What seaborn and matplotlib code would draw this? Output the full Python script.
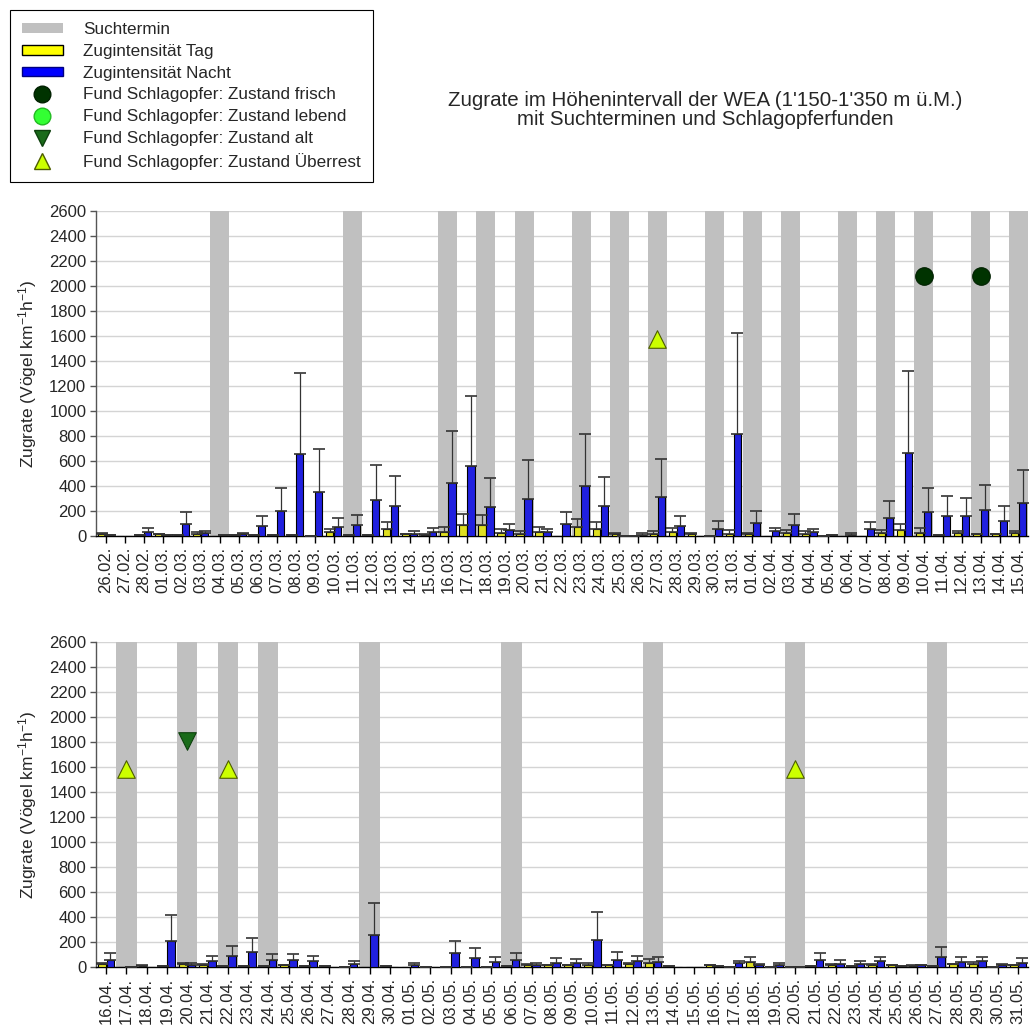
import numpy as np
import pandas as pd
import seaborn as sns
import matplotlib.pyplot as plt
from matplotlib.patches import Patch
from matplotlib.lines import Line2D

# Dates (tick labels) of the two panels
top_dates = list(pd.date_range("2011-02-26", "2011-04-15").strftime("%d.%m."))
bottom_dates = list(pd.date_range("2011-04-16", "2011-05-31").strftime("%d.%m."))

# Zugintensität Tag / Nacht with upper error, top panel (26.02.-15.04.)
top_tag = [20, 0, 5, 15, 5, 18, 0, 5, 5, 5, 5, 3, 30, 5, 5, 58, 15, 12, 35, 90,
           88, 27, 20, 35, 0, 72, 58, 18, 3, 20, 35, 15, 3, 20, 20, 0, 28, 20, 2, 0,
           0, 27, 45, 28, 10, 22, 15, 15, 22]
top_tag_err = [3, 0, 0, 5, 0, 12, 0, 0, 0, 0, 0, 0, 30, 0, 0, 58, 5, 4, 40, 85,
               83, 29, 22, 40, 0, 64, 56, 8, 0, 22, 30, 10, 0, 27, 8, 0, 20, 22, 0, 0,
               0, 21, 50, 38, 0, 20, 0, 0, 20]
top_nacht = [5, 0, 30, 5, 96, 22, 5, 15, 82, 197, 653, 352, 75, 88, 285, 243, 20, 30, 424, 557,
             230, 50, 300, 30, 96, 403, 237, 2, 12, 309, 83, 0, 58, 813, 104, 37, 90, 29, 8, 12,
             58, 141, 661, 189, 163, 157, 205, 117, 264]
top_nacht_err = [0, 0, 37, 0, 93, 21, 0, 13, 81, 190, 654, 344, 72, 83, 286, 240, 20, 37, 419, 560,
                 235, 50, 310, 27, 99, 413, 232, 0, 10, 307, 80, 0, 64, 812, 93, 30, 85, 27, 0, 14,
                 57, 139, 662, 192, 157, 150, 206, 120, 267]

# bottom panel (16.04.-31.05.)
bottom_tag = [20, 0, 8, 10, 22, 15, 10, 10, 10, 17, 10, 10, 3, 0, 10, 0, 3, 3, 3, 3,
              10, 15, 12, 15, 15, 12, 20, 29, 10, 0, 12, 3, 43, 3, 3, 10, 18, 10, 17, 14,
              10, 10, 20, 20, 2, 17]
bottom_tag_err = [8, 0, 10, 0, 6, 5, 0, 0, 0, 0, 0, 0, 0, 0, 0, 0, 0, 0, 0, 0,
                  0, 5, 0, 0, 15, 0, 10, 35, 0, 0, 0, 0, 34, 0, 0, 0, 6, 0, 6, 0,
                  5, 0, 6, 16, 0, 0]
bottom_nacht = [53, 3, 0, 211, 15, 45, 88, 120, 53, 53, 45, 0, 27, 259, 0, 13, 0, 109, 72, 37,
                59, 13, 35, 35, 219, 58, 45, 43, 0, 0, 5, 29, 17, 14, 2, 59, 27, 27, 45, 10,
                15, 80, 43, 45, 13, 35]
bottom_nacht_err = [56, 0, 0, 208, 18, 43, 80, 112, 48, 48, 43, 0, 21, 253, 0, 19, 0, 102, 80, 46,
                    50, 22, 37, 30, 221, 58, 43, 37, 0, 0, 0, 20, 7, 16, 0, 56, 29, 21, 35, 0,
                    2, 80, 37, 35, 14, 40]

# Suchtermine
top_such = ["04.03.", "11.03.", "16.03.", "18.03.", "20.03.", "23.03.", "25.03.", "27.03.",
            "30.03.", "01.04.", "03.04.", "06.04.", "08.04.", "10.04.", "13.04.", "15.04."]
bottom_such = ["17.04.", "20.04.", "22.04.", "24.04.", "29.04.", "06.05.", "13.05.", "20.05.", "27.05."]

# Schlagopferfunde (date, y position of the symbol)
frisch_dates = ["10.04.", "13.04."]
frisch_y = [2080, 2080]
alt_dates = ["20.04."]
alt_y = [1810]
ueberrest_dates = ["27.03.", "17.04.", "22.04.", "20.05."]
ueberrest_y = [1580, 1580, 1580, 1580]

GRAY = "#c0c0c0"
YELLOW = "#ffff00"
BLUE = "#0000ff"
C_FRISCH = "#003300"
C_LEBEND = "#33ff33"
C_ALT = "#1a6b1a"
C_UEBER = "#ccff00"

sns.set_style("white")
plt.rcParams["font.family"] = ["Liberation Sans", "DejaVu Sans"]
plt.rcParams["mathtext.fontset"] = "custom"
plt.rcParams["mathtext.rm"] = "Liberation Sans"
plt.rcParams["mathtext.default"] = "regular"

fig = plt.figure(figsize=(10.3, 10.3), dpi=100)
ax_top = fig.add_axes([0.0932, 0.4796, 0.905, 0.3155])
ax_bot = fig.add_axes([0.0932, 0.0612, 0.905, 0.3155])


def draw_panel(ax, dates, tag, tag_err, nacht, nacht_err, such):
    n = len(dates)
    df = pd.DataFrame({
        "Datum": dates * 2,
        "Zugrate": tag + nacht,
        "Serie": ["Tag"] * n + ["Nacht"] * n,
    })
    sns.barplot(data=df, x="Datum", y="Zugrate", hue="Serie", order=dates,
                hue_order=["Tag", "Nacht"], palette={"Tag": YELLOW, "Nacht": BLUE},
                width=0.84, gap=0.1, errorbar=None, legend=False,
                edgecolor="black", linewidth=0.8, zorder=3, ax=ax)

    # upper error bars, placed on the bars seaborn drew
    err_lookup = {"Tag": tag_err, "Nacht": nacht_err}
    xs, ys, es = [], [], []
    for p in ax.patches:
        xc = p.get_x() + p.get_width() / 2
        i = int(round(xc))
        serie = "Tag" if xc < i else "Nacht"
        h = p.get_height()
        if h <= 0:
            continue
        xs.append(xc)
        ys.append(h)
        es.append(err_lookup[serie][i])
    ax.errorbar(xs, ys, yerr=[np.zeros(len(es)), es], fmt="none", ecolor="#333333",
                elinewidth=0.9, capsize=4, capthick=1.2, zorder=4)

    # Suchtermine as gray columns
    such_idx = [dates.index(d) for d in such]
    ax.bar(such_idx, [2600] * len(such_idx), width=1.0, color=GRAY, linewidth=0, zorder=1)

    ax.set_xlim(-0.5, n - 0.5)
    ax.set_ylim(0, 2600)
    ax.set_yticks(range(0, 2601, 200))
    ax.yaxis.grid(True, color="#d4d4d4", linewidth=1.0)
    ax.set_axisbelow(True)
    for s in ["top", "right"]:
        ax.spines[s].set_visible(False)
    ax.spines["left"].set_color("#555555")
    ax.spines["bottom"].set_color("black")
    ax.spines["left"].set_linewidth(1.0)
    ax.spines["bottom"].set_linewidth(1.0)
    ax.tick_params(axis="y", left=True, length=4, width=1, labelsize=12, pad=3, color="#555555")
    ax.tick_params(axis="x", bottom=True, length=5, width=1, labelsize=12, pad=3,
                   labelrotation=90, color="black")
    ax.set_xlabel("")
    ax.set_ylabel("Zugrate (Vögel km$^{-1}$h$^{-1}$)", fontsize=12.5, labelpad=7)


def draw_funde(ax, dates, fdates, fy, marker, color, edge):
    idx = [dates.index(d) for d in fdates if d in dates]
    yy = [y for d, y in zip(fdates, fy) if d in dates]
    if idx:
        ax.scatter(idx, yy, marker=marker, s=160, c=color, edgecolors=edge,
                   linewidths=0.8, zorder=5)


draw_panel(ax_top, top_dates, top_tag, top_tag_err, top_nacht, top_nacht_err, top_such)
draw_panel(ax_bot, bottom_dates, bottom_tag, bottom_tag_err, bottom_nacht, bottom_nacht_err, bottom_such)

for ax, dates in [(ax_top, top_dates), (ax_bot, bottom_dates)]:
    draw_funde(ax, dates, frisch_dates, frisch_y, "o", C_FRISCH, "#002000")
    draw_funde(ax, dates, alt_dates, alt_y, "v", C_ALT, "#0d400d")
    draw_funde(ax, dates, ueberrest_dates, ueberrest_y, "^", C_UEBER, "#4d5c00")

# title
fig.text(705 / 1030, 1 - 110 / 1030,
         "Zugrate im Höhenintervall der WEA (1'150-1'350 m ü.M.)\nmit Suchterminen und Schlagopferfunden",
         ha="center", va="center", fontsize=14.8, linespacing=1.05)

# legend
handles = [
    Patch(facecolor=GRAY, edgecolor="none", label="Suchtermin"),
    Patch(facecolor=YELLOW, edgecolor="black", label="Zugintensität Tag"),
    Patch(facecolor=BLUE, edgecolor="#000080", label="Zugintensität Nacht"),
    Line2D([], [], ls="none", marker="o", ms=12, mfc=C_FRISCH, mec="#002000",
           label="Fund Schlagopfer: Zustand frisch"),
    Line2D([], [], ls="none", marker="o", ms=12, mfc=C_LEBEND, mec="#22bb22",
           label="Fund Schlagopfer: Zustand lebend"),
    Line2D([], [], ls="none", marker="v", ms=12, mfc=C_ALT, mec="#0d400d",
           label="Fund Schlagopfer: Zustand alt"),
    Line2D([], [], ls="none", marker="^", ms=12, mfc=C_UEBER, mec="#4d5c00",
           label="Fund Schlagopfer: Zustand Überrest"),
]
leg = fig.legend(handles=handles, loc="upper left", bbox_to_anchor=(10 / 1030, 1 - 10 / 1030),
                 frameon=True, fancybox=False, edgecolor="black", framealpha=1,
                 fontsize=12.3, handlelength=2.4, handleheight=0.5, labelspacing=0.4,
                 borderpad=0.7, handletextpad=1.2, borderaxespad=0)
leg.get_frame().set_linewidth(0.8)

fig.savefig("out.png", dpi=100)
